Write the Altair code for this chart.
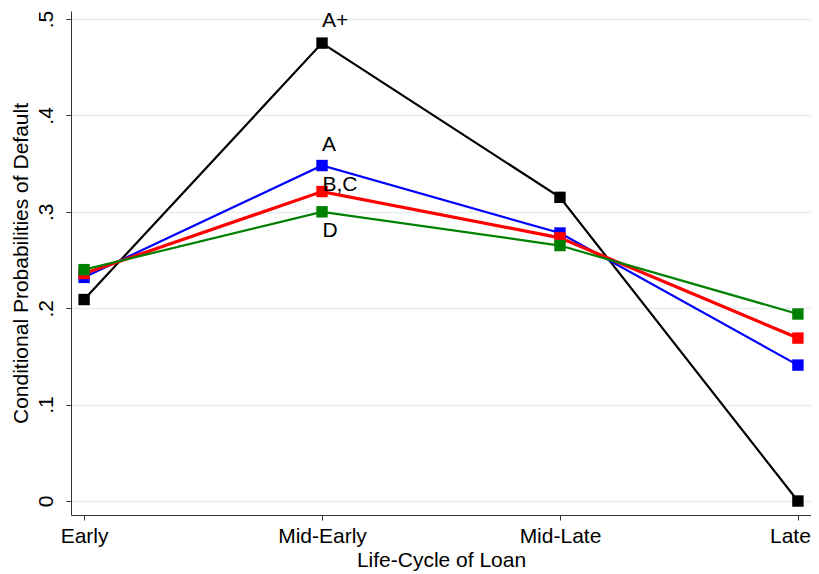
import altair as alt
import pandas as pd

stages = ["Early", "Mid-Early", "Mid-Late", "Late"]
series = ["A+", "A", "B,C", "D"]
colors = ["#000000", "#0000ff", "#ff0000", "#008000"]
widths = [2.2, 2.2, 3.2, 2.2]
vals_aplus = [0.209, 0.475, 0.315, 0.0]
vals_a = [0.232, 0.348, 0.278, 0.141]
vals_bc = [0.236, 0.321, 0.273, 0.169]
vals_d = [0.240, 0.300, 0.265, 0.194]
all_vals = [vals_aplus, vals_a, vals_bc, vals_d]

label_dy = [-22, -21, -7, 19]
label_dx = [13, 7, 18, 8]

FONT = "Liberation Sans"
FS = 21

rows = []
for s, v in zip(series, all_vals):
    for st, y in zip(stages, v):
        rows.append({"stage": st, "series": s, "value": y})
df = pd.DataFrame(rows)

xenc = alt.X("stage:N", sort=stages, scale=alt.Scale(type="point", padding=0.055),
             axis=alt.Axis(title="Life-Cycle of Loan", labelFontSize=FS, titleFontSize=FS,
                           labelAngle=0, grid=False, domainColor="#333333", tickColor="#333333",
                           tickSize=5, labelPadding=5, titlePadding=3, labelColor="black",
                           labelOffset={"condition": {"test": "datum.value === 'Late'", "value": -8}, "value": 0},
                           titleColor="black", titleFontWeight="normal"))
yenc = alt.Y("value:Q", scale=alt.Scale(domain=[-0.0145, 0.5083], nice=False, zero=False),
             axis=alt.Axis(title="Conditional Probabilities of Default", values=[0, 0.1, 0.2, 0.3, 0.4, 0.5],
                           labelExpr="datum.value == 0 ? '0' : replace(format(datum.value, '.1f'), '0.', '.')",
                           labelAngle=270, labelFontSize=FS, titleFontSize=FS, labelAlign="center",
                           labelBaseline="bottom", labelPadding=10, titlePadding=4,
                           grid=True, gridColor="#e6eef0", gridWidth=1.5,
                           domainColor="#333333", tickColor="#333333", tickSize=5,
                           labelColor="black", titleColor="black", titleFontWeight="normal"))

layers = []
for s, c, w in zip(series, colors, widths):
    sub = df[df.series == s]
    layers.append(alt.Chart(sub).mark_line(color=c, strokeWidth=w).encode(x=xenc, y=yenc))
for s, c in zip(series, colors):
    sub = df[df.series == s]
    layers.append(alt.Chart(sub).mark_square(color=c, size=130, opacity=1).encode(x=xenc, y=yenc))

for s, v, dy, dx in zip(series, all_vals, label_dy, label_dx):
    ldf = pd.DataFrame([{"stage": "Mid-Early", "value": v[1], "label": s}])
    layers.append(alt.Chart(ldf).mark_text(fontSize=FS, color="black", dy=dy, dx=dx, baseline="middle").encode(
        x=xenc, y=yenc, text="label:N"))

chart = alt.layer(*layers).properties(
    width=740, height=504,
    autosize=alt.AutoSizeParams(type="none"),
    padding={"left": 63, "top": 3, "right": 0, "bottom": 56},
).configure_view(stroke=None).configure_axis(labelFont=FONT, titleFont=FONT).configure_text(font=FONT)

chart.save("out.html", embed_options={"renderer": "svg", "actions": False})
